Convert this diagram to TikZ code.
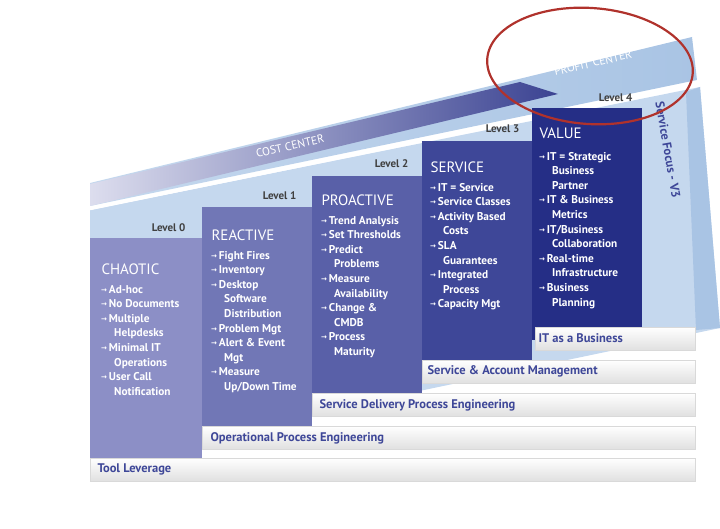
\documentclass[tikz,border=0pt]{standalone}
\usepackage{fontspec}
\setmainfont{PT Sans}
\newfontfamily\arrowfont{DejaVu Sans}
\usetikzlibrary{positioning}
\definecolor{colA}{HTML}{8C8FC6}
\definecolor{colB}{HTML}{7177B6}
\definecolor{colC}{HTML}{5960A8}
\definecolor{colD}{HTML}{3E4798}
\definecolor{colE}{HTML}{252E86}
\definecolor{band}{HTML}{C5D8EE}
\definecolor{bandtop}{HTML}{A9C4E4}
\definecolor{ringred}{HTML}{B0322C}
\newcommand{\ar}{{\arrowfont\scriptsize\raisebox{1pt}{→}}\,}
\newcommand{\ind}{\hspace*{13pt}}
\tikzset{
  column/.style={anchor=north west, inner sep=0pt, text=white, font=\bfseries\fontsize{11.3}{14.6}\selectfont, align=left},
  title/.style={anchor=north west, text=white, font=\fontsize{15}{17}\selectfont},
  level/.style={anchor=south east, font=\bfseries\fontsize{11}{12}\selectfont, text=black!75},
  bar/.style={top color=white, bottom color=black!12, draw=black!15, line width=0.6pt},
  barlabel/.style={anchor=west, text=colD, font=\bfseries\fontsize{12.5}{14}\selectfont}
}
\begin{document}
\begin{tikzpicture}[x=1pt,y=-1pt]
  \useasboundingbox (0,0) rectangle (720,529);
  % background bands
  \fill[band] (90,210) -- (700,87) -- (720,328) -- (90,460) -- cycle;
  \fill[bandtop] (700,87) -- (720,328) -- (696,330) -- (686,92) -- cycle;
  \shade[left color=band, right color=bandtop] (90,183) -- (692,37) -- (697,80) -- (90,206) -- cycle;
  \shade[left color=colA!30, right color=colE!90] (90,184) -- (520,82) -- (558,94) -- (90,206) -- cycle;
  \draw[white, line width=2.5pt] (90,209) -- (700,84);
  \node[rotate=13, text=white, font=\fontsize{11.5}{13}\selectfont] (cost) at (290,146) {COST CENTER};
  \node[rotate=13, text=white, font=\fontsize{11.5}{13}\selectfont] (profit) at (593,63) {PROFIT CENTER};
  \node[rotate=-80, text=colD, inner sep=0pt, font=\bfseries\fontsize{12.5}{14}\selectfont] (focus) at (668,150) {Service Focus - V3};

  % columns
  \fill[colA] (90,238) rectangle (202,470);
  \fill[colB] (202,207) rectangle (312,440);
  \fill[colC] (312,176) rectangle (422,405);
  \fill[colD] (422,141) rectangle (532,372);
  \fill[colE] (532,108) rectangle (642,340);

  \node[level] (l0) at (189,235) {Level 0};
  \node[level] (l1) at (300,203) {Level 1};
  \node[level] (l2) at (412,171) {Level 2};
  \node[level] (l3) at (523,136) {Level 3};
  \node[level] (l4) at (636,105) {Level 4};

  \node[title] (chaotic)   at (98,260) {CHAOTIC};
  \node[title] (reactive)  at (208,226) {REACTIVE};
  \node[title] (proactive) at (318,191) {PROACTIVE};
  \node[title] (service)   at (427,158) {SERVICE};
  \node[title] (value)     at (536,124) {VALUE};

  \node[column] (c0) [below=7pt of chaotic.south west, anchor=north west, xshift=3pt]
    {\ar Ad-hoc\\ \ar No Documents\\ \ar Multiple\\ \ind Helpdesks\\ \ar Minimal IT\\ \ind Operations\\ \ar User Call\\ \ind Notification};
  \node[column] (c1) [below=7pt of reactive.south west, anchor=north west, xshift=3pt]
    {\ar Fight Fires\\ \ar Inventory\\ \ar Desktop\\ \ind Software\\ \ind Distribution\\ \ar Problem Mgt\\ \ar Alert \& Event\\ \ind Mgt\\ \ar Measure\\ \ind Up/Down Time};
  \node[column] (c2) [below=7pt of proactive.south west, anchor=north west, xshift=3pt]
    {\ar Trend Analysis\\ \ar Set Thresholds\\ \ar Predict\\ \ind Problems\\ \ar Measure\\ \ind Availability\\ \ar Change \&\\ \ind CMDB\\ \ar Process\\ \ind Maturity};
  \node[column] (c3) [below=7pt of service.south west, anchor=north west, xshift=3pt]
    {\ar IT = Service\\ \ar Service Classes\\ \ar Activity Based\\ \ind Costs\\ \ar SLA\\ \ind Guarantees\\ \ar Integrated\\ \ind Process\\ \ar Capacity Mgt};
  \node[column] (c4) [below=10pt of value.south west, anchor=north west, xshift=3pt]
    {\ar IT = Strategic\\ \ind Business\\ \ind Partner\\ \ar IT \& Business\\ \ind Metrics\\ \ar IT/Business\\ \ind Collaboration\\ \ar Real-time\\ \ind Infrastructure\\ \ar Business\\ \ind Planning};

  % capability bars
  \draw[bar] (535,327) rectangle (695,350);
  \draw[bar] (422,360) rectangle (695,383);
  \draw[bar] (312,393) rectangle (695,416);
  \draw[bar] (202,426) rectangle (695,449);
  \draw[bar] (90,458) rectangle (695,481);
  \node[barlabel] (b4) at (535,338) {IT as a Business};
  \node[barlabel] (b3) at (424,371) {Service \& Account Management};
  \node[barlabel] (b2) at (316,405) {Service Delivery Process Engineering};
  \node[barlabel] (b1) at (207,438) {Operational Process Engineering};
  \node[barlabel] (b0) at (94,469) {Tool Leverage};

  % highlight ring
  \draw[ringred, line width=2.2pt, rotate around={-4:(590,66)}] (590,66) ellipse (103pt and 58pt);
\end{tikzpicture}
\end{document}
